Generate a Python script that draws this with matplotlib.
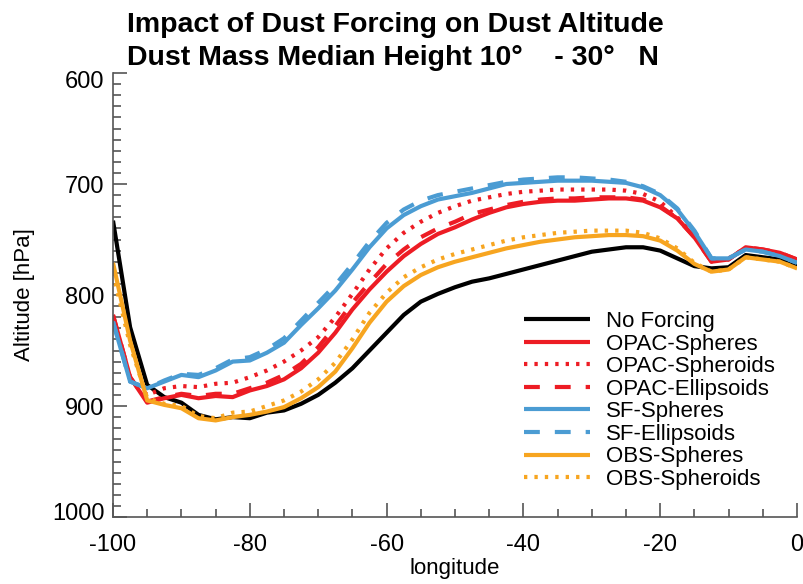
import matplotlib
matplotlib.use("Agg")
import matplotlib.pyplot as plt
from matplotlib.ticker import MultipleLocator
from matplotlib.transforms import ScaledTranslation

lon = [-100, -97.5, -95, -92.5, -90, -87.5, -85, -82.5, -80, -77.5, -75, -72.5, -70,
       -67.5, -65, -62.5, -60, -57.5, -55, -52.5, -50, -47.5, -45, -42.5, -40, -37.5,
       -35, -32.5, -30, -27.5, -25, -22.5, -20, -17.5, -15, -12.5, -10, -7.5, -5, -2.5, 0]

no_forcing = [733, 829, 881, 892, 897, 908, 912, 910, 911, 906, 904, 898, 890,
              879, 866, 850, 834, 818, 806, 799, 793, 788, 785, 781, 777, 773,
              769, 765, 761, 759, 757, 757, 760, 767, 774, 776, 775, 764, 766, 768, 774]

opac_spheres = [818, 874, 897, 893, 890, 893, 891, 892, 886, 882, 876, 866, 852,
                834, 813, 795, 779, 765, 754, 745, 739, 732, 726, 721, 718, 716,
                715, 715, 714, 713, 713, 715, 721, 731, 748, 770, 768, 757, 759, 762, 768]

opac_spheroids = [820, 876, 890, 884, 882, 883, 880, 879, 874, 868, 860, 850, 838,
                  820, 799, 777, 758, 744, 734, 726, 720, 715, 712, 709, 707, 706,
                  705, 705, 705, 705, 706, 709, 716, 730, 746, 769, 767, 758, 760, 764, 770]

opac_ellipsoids = [818, 874, 896, 892, 889, 891, 889, 889, 884, 879, 872, 862, 847,
                   828, 807, 789, 772, 759, 748, 740, 734, 727, 723, 719, 716, 714,
                   713, 713, 712, 712, 712, 714, 720, 731, 748, 770, 768, 757, 759, 762, 768]

sf_spheres = [824, 878, 884, 878, 872, 874, 868, 860, 859, 852, 843, 827, 812,
              796, 777, 757, 740, 728, 720, 714, 711, 708, 704, 700, 699, 698,
              697, 697, 697, 698, 699, 703, 710, 723, 743, 767, 767, 759, 761, 765, 771]

sf_ellipsoids = [824, 878, 884, 877, 871, 872, 866, 858, 856, 849, 839, 823, 807,
                 791, 772, 752, 735, 723, 715, 710, 707, 704, 701, 698, 696, 695,
                 694, 694, 695, 696, 698, 702, 709, 722, 742, 767, 767, 759, 761, 765, 771]

obs_spheres = [771, 841, 895, 899, 902, 911, 913, 910, 908, 905, 901, 893, 883,
               869, 848, 825, 806, 792, 782, 775, 770, 766, 762, 758, 755, 752,
               750, 748, 747, 746, 746, 747, 751, 760, 772, 779, 777, 766, 768, 770, 776]

obs_spheroids = [780, 845, 893, 898, 900, 909, 911, 906, 905, 900, 895, 887, 876,
                 861, 840, 816, 798, 784, 775, 768, 763, 759, 755, 751, 748, 746,
                 744, 743, 742, 742, 742, 744, 749, 758, 771, 779, 777, 766, 768, 770, 776]

labels = ["No Forcing", "OPAC-Spheres", "OPAC-Spheroids", "OPAC-Ellipsoids",
          "SF-Spheres", "SF-Ellipsoids", "OBS-Spheres", "OBS-Spheroids"]

title_lines = ["Impact of Dust Forcing on Dust Altitude",
               "Dust Mass Median Height 10\u00b0    - 30\u00b0   N"]

RED = "#ED1C24"
BLUE = "#4B9CD3"
ORANGE = "#F7A520"
lw = 3.0
dot = (0, (0.8, 1.7))
dash = (0, (3.8, 3.6))

series = [
    (no_forcing, "black", "-"),
    (opac_spheres, RED, "-"),
    (opac_spheroids, RED, dot),
    (opac_ellipsoids, RED, dash),
    (sf_spheres, BLUE, "-"),
    (sf_ellipsoids, BLUE, dash),
    (obs_spheres, ORANGE, "-"),
    (obs_spheroids, ORANGE, dot),
]

plt.rcParams['font.family'] = ['Liberation Sans', 'DejaVu Sans']
plt.rcParams['axes.unicode_minus'] = False

fig = plt.figure(figsize=(8.04, 5.84), dpi=100)
ax = fig.add_axes([113/804, 1 - 517/584, (797-113)/804, (517-73)/584])

for (vals, col, ls), lab in zip(series, labels):
    ax.plot(lon, vals, color=col, linestyle=ls, linewidth=lw, label=lab,
            dash_capstyle='butt', solid_capstyle='butt')

ax.set_xlim(-100, 0)
ax.set_ylim(1000, 600)
ax.xaxis.set_major_locator(MultipleLocator(20))
ax.xaxis.set_minor_locator(MultipleLocator(5))
ax.yaxis.set_major_locator(MultipleLocator(100))
ax.yaxis.set_minor_locator(MultipleLocator(10))
ax.tick_params(which='both', direction='in', color='#555555', width=1.2, labelsize=17)
ax.tick_params(which='major', length=10)
ax.tick_params(which='minor', length=6)
ax.tick_params(axis='x', pad=12)
ax.tick_params(axis='y', pad=6)
ax.spines['top'].set_visible(False)
ax.spines['right'].set_visible(False)
for s in ('left', 'bottom'):
    ax.spines[s].set_color('#555555')
    ax.spines[s].set_linewidth(1.2)

ax.set_xlabel("longitude", fontsize=16, labelpad=2)
ax.set_ylabel("Altitude [hPa]", fontsize=16, labelpad=12)

# end labels kept inside the axis range, as in the original
fig.canvas.draw()
for tk in ax.yaxis.get_major_ticks():
    loc = tk.get_loc()
    if abs(loc - 600) < 1e-6:
        tk.label1.set_transform(tk.label1.get_transform() +
                                ScaledTranslation(0, -6/100, fig.dpi_scale_trans))
    elif abs(loc - 1000) < 1e-6:
        tk.label1.set_transform(tk.label1.get_transform() +
                                ScaledTranslation(0, 6/100, fig.dpi_scale_trans))

tfam = ['Liberation Sans', 'DejaVu Sans']
fig.text(127/804, 1 - 32/584, title_lines[0], fontsize=20.5, fontweight='bold',
         family=tfam, va='baseline')
fig.text(127/804, 1 - 65/584, title_lines[1], fontsize=20.5, fontweight='bold',
         family=tfam, va='baseline')

leg = ax.legend(loc='upper left', bbox_to_anchor=((524-113)/684, (517-311)/444),
                frameon=False, fontsize=16, handlelength=2.97, handletextpad=0.72,
                labelspacing=0.07, borderpad=0, borderaxespad=0)

fig.savefig("out.png", dpi=100)
